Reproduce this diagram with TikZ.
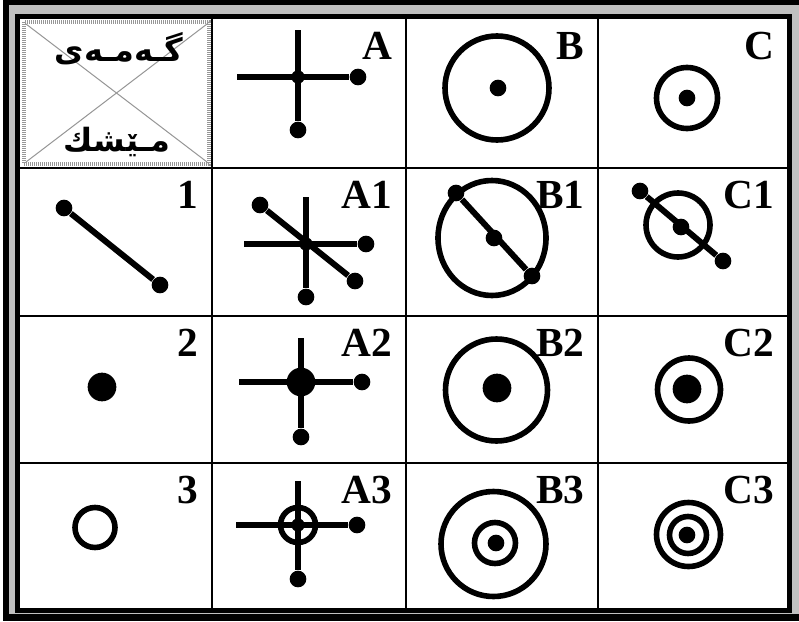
\documentclass[tikz,border=0pt]{standalone}
\usepackage{fontspec}
\newfontfamily\arabicfont[Script=Arabic]{DejaVu Sans}
\newfontfamily\labelfont{Liberation Serif}
\TeXXeTstate=1
\definecolor{framegray}{RGB}{192,192,192}
\definecolor{hatchgray}{RGB}{150,150,150}

\tikzset{every picture/.style={line width=0.75pt}}

\begin{document}
\begin{tikzpicture}[
            x=0.75pt,
            y=0.75pt,
            yscale=-1,
            xscale=1,
            every node/.style={text=black},
            gridline/.style={line width=1.9pt},
            bar/.style={line width=4.5pt},
            ring/.style={line width=4.2pt},
            enddot/.style={circle, fill=black, inner sep=0pt, minimum size=12.5pt},
            middot/.style={circle, fill=black, inner sep=0pt, minimum size=10pt},
            bigdot/.style={circle, fill=black, inner sep=0pt, minimum size=21.5pt},
            lbl/.style={anchor=north east, inner sep=0pt, font=\labelfont\bfseries\fontsize{31}{31}\selectfont},
            kutext/.style={inner sep=0pt, font=\arabicfont\bfseries\fontsize{24}{24}\selectfont}
        ]
            \useasboundingbox (0,0) rectangle (799,621);

            \fill [black] (3,0) rectangle (799,621);
            \fill [framegray] (9,5) rectangle (799,614);
            \draw [line width=3.75pt, fill=white] (17.5,16.5) rectangle (789.5,610.5);
            \foreach \x in {212,406,598} \draw [gridline] (\x,19) -- (\x,608);
            \foreach \y in {168,316,463} \draw [gridline] (20,\y) -- (787,\y);

            \draw [hatchgray, line width=3pt, dash pattern={on 0.75pt off 0.75pt}] (24,22) rectangle (209,164);
            \draw [hatchgray, line width=0.75pt] (26,24) -- (207,162);
            \draw [hatchgray, line width=0.75pt] (207,24) -- (26,162);
            \node [kutext] (game) at (119,49) {\beginR گـەمـەی\endR};
            \node [kutext] (mesk) at (117,142) {\beginR مـێشك\endR};

            \node [lbl] (lab-a) at (393,32) {A};
            \node [middot] (a-c) at (298,77) {};
            \coordinate (a-t) at (298,30);
            \coordinate (a-l) at (237,77);
            \node [enddot] (a-r) at (358,77) {};
            \node [enddot] (a-b) at (298,130) {};
            \draw [bar] (a-l) -- (a-r);
            \draw [bar] (a-t) -- (a-b);

            \node [lbl] (lab-b) at (585,32) {B};
            \draw [ring] (497,88) circle (52);
            \node [enddot] (b-c) at (498,88) {};

            \node [lbl] (lab-c) at (775,32) {C};
            \draw [ring] (687,98) circle (30.5);
            \node [enddot] (c-c) at (687,98) {};

            \node [lbl] (lab-1) at (199,181) {1};
            \node [enddot] (one-a) at (64,208) {};
            \node [enddot] (one-b) at (160,285) {};
            \draw [bar] (one-a) -- (one-b);

            \node [lbl] (lab-a1) at (393,181) {A1};
            \node [middot] (a1-c) at (306,244) {};
            \coordinate (a1-t) at (306,197);
            \coordinate (a1-l) at (244,244);
            \node [enddot] (a1-r) at (366,244) {};
            \node [enddot] (a1-b) at (306,297) {};
            \node [enddot] (a1-p) at (260,205) {};
            \node [enddot] (a1-q) at (355,281) {};
            \draw [bar] (a1-l) -- (a1-r);
            \draw [bar] (a1-t) -- (a1-b);
            \draw [bar] (a1-p) -- (a1-q);

            \node [lbl] (lab-b1) at (585,181) {B1};
            \draw [ring] (492,238) ellipse (54 and 57.5);
            \node [enddot] (b1-c) at (494,238) {};
            \node [enddot] (b1-p) at (456,193) {};
            \node [enddot] (b1-q) at (532,276) {};
            \draw [bar] (b1-p) -- (b1-q);

            \node [lbl] (lab-c1) at (775,181) {C1};
            \draw [ring] (678,225) circle (32);
            \node [enddot] (c1-c) at (681,227) {};
            \node [enddot] (c1-p) at (640,191) {};
            \node [enddot] (c1-q) at (723,261) {};
            \draw [bar] (c1-p) -- (c1-q);

            \node [lbl] (lab-2) at (199,329) {2};
            \node [bigdot] (two-c) at (102,387) {};

            \node [lbl] (lab-a2) at (393,329) {A2};
            \node [bigdot] (a2-c) at (301,382) {};
            \coordinate (a2-t) at (301,338);
            \coordinate (a2-l) at (239,382);
            \node [enddot] (a2-r) at (362,382) {};
            \node [enddot] (a2-b) at (301,437) {};
            \draw [bar] (a2-l) -- (a2-r);
            \draw [bar] (a2-t) -- (a2-b);

            \node [lbl] (lab-b2) at (585,329) {B2};
            \draw [ring] (496.5,390) circle (51);
            \node [bigdot] (b2-c) at (497,388) {};

            \node [lbl] (lab-c2) at (775,329) {C2};
            \draw [ring] (689,389.5) circle (31.5);
            \node [bigdot] (c2-c) at (687,389) {};

            \node [lbl] (lab-3) at (199,476) {3};
            \draw [ring] (95,527.5) circle (20);

            \node [lbl] (lab-a3) at (393,476) {A3};
            \draw [ring] (298,525) circle (17.5);
            \node [middot] (a3-c) at (298,525) {};
            \coordinate (a3-t) at (298,481);
            \coordinate (a3-l) at (236,525);
            \node [enddot] (a3-r) at (357,525) {};
            \node [enddot] (a3-b) at (298,579) {};
            \draw [bar] (a3-l) -- (a3-r);
            \draw [bar] (a3-t) -- (a3-b);

            \node [lbl] (lab-b3) at (585,476) {B3};
            \draw [ring] (493.5,544) circle (52.5);
            \draw [ring] (495,543) circle (20.5);
            \node [enddot] (b3-c) at (496,543) {};

            \node [lbl] (lab-c3) at (775,476) {C3};
            \draw [ring] (688.5,534.5) circle (32);
            \draw [ring] (688,535) circle (18.5);
            \node [enddot] (c3-c) at (687,535) {};
        \end{tikzpicture}
\end{document}
